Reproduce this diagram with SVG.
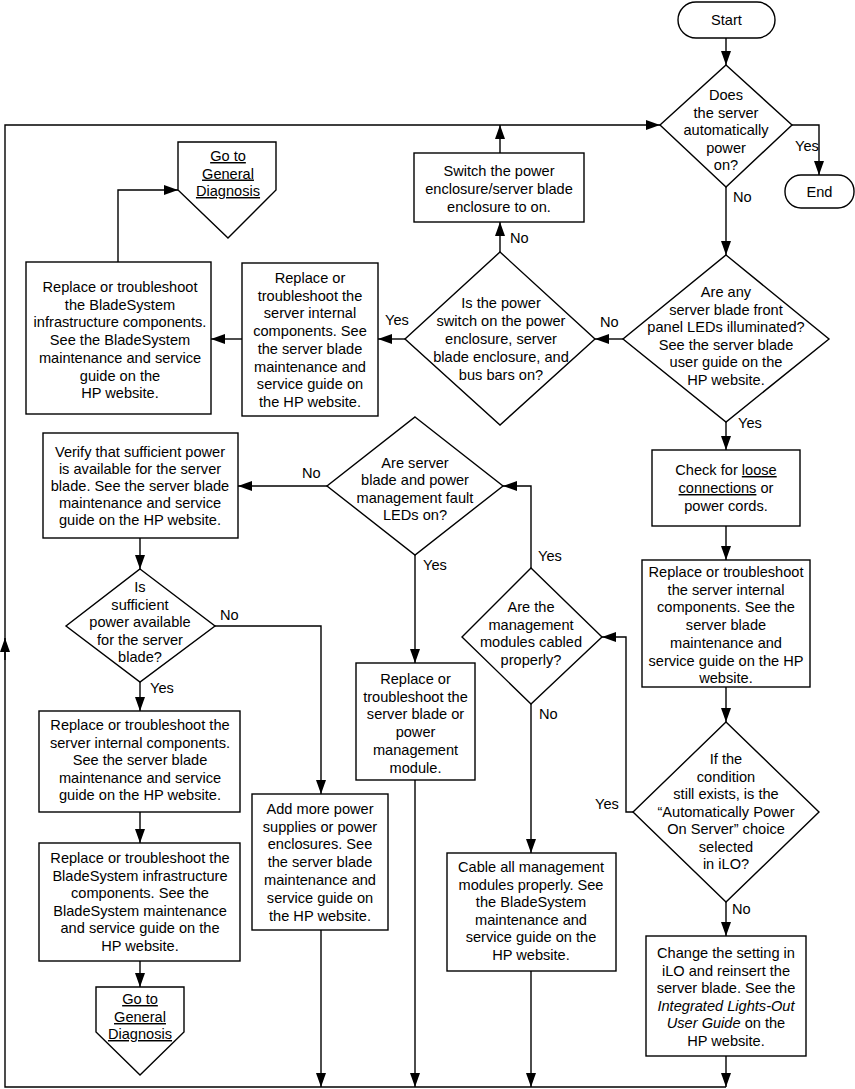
<svg xmlns="http://www.w3.org/2000/svg" width="855" height="1089" viewBox="0 0 855 1089">
<style>
text{font-family:"Liberation Sans",Arial,sans-serif;font-size:14.6px;fill:#000;text-anchor:middle}
.lbl{text-anchor:start}
.shape{fill:#fff;stroke:#000;stroke-width:1.4}
.c{fill:none;stroke:#000;stroke-width:1.4}
.u{text-decoration:underline}
.i{font-style:italic}
</style>
<defs>
<marker id="ah" markerUnits="userSpaceOnUse" markerWidth="14" markerHeight="10" viewBox="0 0 14 10" refX="14" refY="5" orient="auto">
<path d="M0,0 L14,5 L0,10 z" fill="#000"/>
</marker>
</defs>

<g id="connectors">
<path class="c" d="M726,38 V65" marker-end="url(#ah)"/>
<path class="c" d="M792,125 H819 V175" marker-end="url(#ah)"/>
<path class="c" d="M726,187 V255" marker-end="url(#ah)"/>
<path class="c" d="M623,339 H595" marker-end="url(#ah)"/>
<path class="c" d="M500,252 V222" marker-end="url(#ah)"/>
<path class="c" d="M500,153 V125" marker-end="url(#ah)"/>
<path class="c" d="M405,339 H378" marker-end="url(#ah)"/>
<path class="c" d="M242,339 H211" marker-end="url(#ah)"/>
<path class="c" d="M118,262 V190 H178" marker-end="url(#ah)"/>
<path class="c" d="M726,422 V450" marker-end="url(#ah)"/>
<path class="c" d="M726,526 V560" marker-end="url(#ah)"/>
<path class="c" d="M726,687 V722" marker-end="url(#ah)"/>
<path class="c" d="M633,812 H626 V637 H602" marker-end="url(#ah)"/>
<path class="c" d="M726,902 V936" marker-end="url(#ah)"/>
<path class="c" d="M726,1056 V1087" marker-end="url(#ah)"/>
<path class="c" d="M531,568 V486 H503" marker-end="url(#ah)"/>
<path class="c" d="M531,704 V853" marker-end="url(#ah)"/>
<path class="c" d="M531,971 V1087" marker-end="url(#ah)"/>
<path class="c" d="M327,486 H238" marker-end="url(#ah)"/>
<path class="c" d="M415,555 V663" marker-end="url(#ah)"/>
<path class="c" d="M415,780 V1087" marker-end="url(#ah)"/>
<path class="c" d="M140,538 V569" marker-end="url(#ah)"/>
<path class="c" d="M215,626 H321 V794" marker-end="url(#ah)"/>
<path class="c" d="M140,682 V711" marker-end="url(#ah)"/>
<path class="c" d="M321,930 V1087" marker-end="url(#ah)"/>
<path class="c" d="M140,812 V843" marker-end="url(#ah)"/>
<path class="c" d="M140,961 V987" marker-end="url(#ah)"/>
<path class="c" d="M726,1087 H5 V125 H660" marker-end="url(#ah)"/>
<path class="c" d="M5,660 V638" marker-end="url(#ah)"/>
<text class="lbl" x="795" y="151">Yes</text>
<text class="lbl" x="733" y="202">No</text>
<text class="lbl" x="600" y="327">No</text>
<text class="lbl" x="510" y="243">No</text>
<text class="lbl" x="385" y="325">Yes</text>
<text class="lbl" x="738" y="428">Yes</text>
<text class="lbl" x="302" y="478">No</text>
<text class="lbl" x="220" y="620">No</text>
<text class="lbl" x="150" y="693">Yes</text>
<text class="lbl" x="423" y="570">Yes</text>
<text class="lbl" x="538" y="561">Yes</text>
<text class="lbl" x="539" y="719">No</text>
<text class="lbl" x="595" y="809">Yes</text>
<text class="lbl" x="732" y="914">No</text>
</g>

<g id="start">
<rect class="shape" x="678" y="2" width="97" height="36" rx="18"/>
<text x="726.5" y="25">Start</text>
</g>

<g id="end">
<rect class="shape" x="785" y="175" width="69" height="33" rx="16"/>
<text x="819.5" y="197">End</text>
</g>

<g id="d-auto-power">
<polygon class="shape" points="726,65 792,125 726,187 660,125"/>
<text x="726" y="100">Does</text>
<text x="726" y="117.5">the server</text>
<text x="726" y="135">automatically</text>
<text x="726" y="152.5">power</text>
<text x="726" y="170">on?</text>
</g>

<g id="d-leds">
<polygon class="shape" points="726,255 829,339 726,422 623,339"/>
<text x="726" y="297">Are any</text>
<text x="726" y="314.5">server blade front</text>
<text x="726" y="332">panel LEDs illuminated?</text>
<text x="726" y="349.5">See the server blade</text>
<text x="726" y="367">user guide on the</text>
<text x="726" y="384.5">HP website.</text>
</g>

<g id="d-switch">
<polygon class="shape" points="500,252 595,339 500,425 405,339"/>
<text x="501" y="308">Is the power</text>
<text x="501" y="326">switch on the power</text>
<text x="501" y="344">enclosure, server</text>
<text x="501" y="362">blade enclosure, and</text>
<text x="501" y="380">bus bars on?</text>
</g>

<g id="switch-on">
<rect class="shape" x="414" y="153" width="170" height="69"/>
<text x="499" y="176">Switch the power</text>
<text x="499" y="194">enclosure/server blade</text>
<text x="499" y="212">enclosure to on.</text>
</g>

<g id="replace-internal-1">
<rect class="shape" x="242" y="263" width="136" height="153"/>
<text x="310" y="283">Replace or</text>
<text x="310" y="300.7">troubleshoot the</text>
<text x="310" y="318.4">server internal</text>
<text x="310" y="336.1">components. See</text>
<text x="310" y="353.8">the server blade</text>
<text x="310" y="371.5">maintenance and</text>
<text x="310" y="389.2">service guide on</text>
<text x="310" y="406.9">the HP website.</text>
</g>

<g id="replace-infra-1">
<rect class="shape" x="26" y="262" width="185" height="152"/>
<text x="120" y="292">Replace or troubleshoot</text>
<text x="120" y="309.7">the BladeSystem</text>
<text x="120" y="327.4">infrastructure components.</text>
<text x="120" y="345.1">See the BladeSystem</text>
<text x="120" y="362.8">maintenance and service</text>
<text x="120" y="380.5">guide on the</text>
<text x="120" y="398.2">HP website.</text>
</g>

<g id="goto-1">
<polygon class="shape" points="178,142 276,142 276,190 228,238 178,190"/>
<text class="u" x="228" y="161">Go to</text>
<text class="u" x="228" y="178.5">General</text>
<text class="u" x="228" y="196">Diagnosis</text>
</g>

<g id="check-loose">
<rect class="shape" x="652" y="450" width="148" height="76"/>
<text x="726" y="475">Check for <tspan class="u">loose</tspan></text>
<text x="726" y="493"><tspan class="u">connections</tspan> or</text>
<text x="726" y="511">power cords.</text>
</g>

<g id="replace-internal-2">
<rect class="shape" x="642" y="560" width="168" height="127"/>
<text x="726" y="577">Replace or troubleshoot</text>
<text x="726" y="594.7">the server internal</text>
<text x="726" y="612.4">components. See the</text>
<text x="726" y="630.1">server blade</text>
<text x="726" y="647.8">maintenance and</text>
<text x="726" y="665.5">service guide on the HP</text>
<text x="726" y="683.2">website.</text>
</g>

<g id="d-condition">
<polygon class="shape" points="726,722 819,812 726,902 633,812"/>
<text x="726" y="764">If the</text>
<text x="726" y="781.5">condition</text>
<text x="726" y="799">still exists, is the</text>
<text x="726" y="816.5">“Automatically Power</text>
<text x="726" y="834">On Server” choice</text>
<text x="726" y="851.5">selected</text>
<text x="726" y="869">in iLO?</text>
</g>

<g id="change-setting">
<rect class="shape" x="646" y="936" width="160" height="120"/>
<text x="726" y="958">Change the setting in</text>
<text x="726" y="975.5">iLO and reinsert the</text>
<text x="726" y="993">server blade. See the</text>
<text x="726" y="1010.5" class="i">Integrated Lights-Out</text>
<text x="726" y="1028"><tspan class="i">User Guide</tspan> on the</text>
<text x="726" y="1045.5">HP website.</text>
</g>

<g id="d-cabled">
<polygon class="shape" points="531,568 602,637 531,704 462,637"/>
<text x="531" y="612">Are the</text>
<text x="531" y="629.5">management</text>
<text x="531" y="647">modules cabled</text>
<text x="531" y="664.5">properly?</text>
</g>

<g id="cable-all">
<rect class="shape" x="447" y="853" width="169" height="118"/>
<text x="531" y="872">Cable all management</text>
<text x="531" y="889.5">modules properly. See</text>
<text x="531" y="907">the BladeSystem</text>
<text x="531" y="924.5">maintenance and</text>
<text x="531" y="942">service guide on the</text>
<text x="531" y="959.5">HP website.</text>
</g>

<g id="d-fault-leds">
<polygon class="shape" points="415,417 503,486 415,555 327,486"/>
<text x="415" y="468">Are server</text>
<text x="415" y="485">blade and power</text>
<text x="415" y="502.5">management fault</text>
<text x="415" y="519.5">LEDs on?</text>
</g>

<g id="replace-blade">
<rect class="shape" x="356" y="663" width="119" height="117"/>
<text x="415.5" y="684">Replace or</text>
<text x="415.5" y="702">troubleshoot the</text>
<text x="415.5" y="719">server blade or</text>
<text x="415.5" y="737">power</text>
<text x="415.5" y="755">management</text>
<text x="415.5" y="773">module.</text>
</g>

<g id="verify-power">
<rect class="shape" x="43" y="433" width="195" height="105"/>
<text x="140" y="457">Verify that sufficient power</text>
<text x="140" y="474">is available for the server</text>
<text x="140" y="491">blade. See the server blade</text>
<text x="140" y="508">maintenance and service</text>
<text x="140" y="525">guide on the HP website.</text>
</g>

<g id="d-sufficient">
<polygon class="shape" points="140,569 215,626 140,682 66,626"/>
<text x="140" y="592">Is</text>
<text x="140" y="609.5">sufficient</text>
<text x="140" y="627">power available</text>
<text x="140" y="644.5">for the server</text>
<text x="140" y="662">blade?</text>
</g>

<g id="add-power">
<rect class="shape" x="252" y="794" width="136" height="136"/>
<text x="320" y="814">Add more power</text>
<text x="320" y="832">supplies or power</text>
<text x="320" y="849">enclosures. See</text>
<text x="320" y="867">the server blade</text>
<text x="320" y="885">maintenance and</text>
<text x="320" y="903">service guide on</text>
<text x="320" y="921">the HP website.</text>
</g>

<g id="replace-internal-3">
<rect class="shape" x="39" y="711" width="201" height="101"/>
<text x="140" y="730">Replace or troubleshoot the</text>
<text x="140" y="747.5">server internal components.</text>
<text x="140" y="765">See the server blade</text>
<text x="140" y="782.5">maintenance and service</text>
<text x="140" y="800">guide on the HP website.</text>
</g>

<g id="replace-infra-2">
<rect class="shape" x="39" y="843" width="201" height="118"/>
<text x="140" y="863">Replace or troubleshoot the</text>
<text x="140" y="880.5">BladeSystem infrastructure</text>
<text x="140" y="898">components. See the</text>
<text x="140" y="915.5">BladeSystem maintenance</text>
<text x="140" y="933">and service guide on the</text>
<text x="140" y="950.5">HP website.</text>
</g>

<g id="goto-2">
<polygon class="shape" points="96,987 184,987 184,1032 140,1075 96,1032"/>
<text class="u" x="140" y="1004">Go to</text>
<text class="u" x="140" y="1022">General</text>
<text class="u" x="140" y="1039">Diagnosis</text>
</g>
</svg>
